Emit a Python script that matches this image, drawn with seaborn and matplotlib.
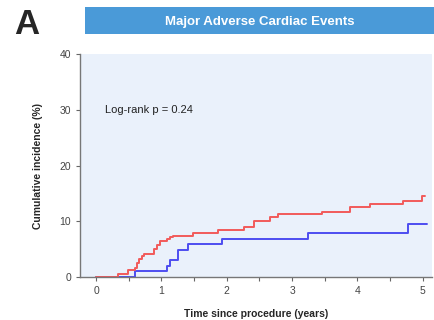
import numpy as np
import pandas as pd
import matplotlib
matplotlib.use("Agg")
import matplotlib.pyplot as plt
import seaborn as sns
from matplotlib.patches import Rectangle

# step curves (time in years, cumulative incidence %)
red_t = [0, 0.34, 0.49, 0.60, 0.63, 0.66, 0.70, 0.73, 0.88, 0.93, 0.98, 1.08, 1.13, 1.18,
         1.49, 1.87, 2.26, 2.41, 2.66, 2.79, 3.45, 3.88, 4.19, 4.70, 4.99, 5.03]
red_y = [0, 0.5, 1.25, 1.7, 2.5, 3.2, 3.8, 4.2, 5.1, 5.7, 6.5, 6.8, 7.2, 7.35,
         7.9, 8.4, 9.0, 10.1, 10.7, 11.3, 11.7, 12.5, 13.1, 13.7, 14.5, 14.5]
blue_t = [0, 0.60, 1.09, 1.13, 1.26, 1.41, 1.92, 3.25, 4.78, 5.06]
blue_y = [0, 1.1, 2.0, 3.05, 4.8, 5.9, 6.9, 7.9, 9.6, 9.6]

df = pd.concat([
    pd.DataFrame({"t": blue_t, "y": blue_y, "grp": "blue"}),
    pd.DataFrame({"t": red_t, "y": red_y, "grp": "red"}),
])

sns.set_style("white")
plt.rcParams['font.family'] = ['Liberation Sans', 'DejaVu Sans']

fig = plt.figure(figsize=(4.35, 3.2), dpi=100)
ax = fig.add_axes([0.184, 0.134, 0.809, 0.697])
ax.set_facecolor('#eaf1fb')

sns.lineplot(data=df, x="t", y="y", hue="grp", palette={"red": "#f25a5a", "blue": "#4d4df0"},
             drawstyle='steps-post', linewidth=1.4, legend=False, ax=ax, estimator=None, sort=False)

ax.set_xlim(-0.245, 5.14)
ax.set_ylim(0, 40)
ax.set_xticks([0, 1, 2, 3, 4, 5])
ax.set_xticks(np.arange(0.5, 5.0, 1.0), minor=True)
ax.set_yticks([0, 10, 20, 30, 40])
ax.tick_params(axis='both', which='both', direction='out', colors='#666666', labelsize=7.5,
               length=3, width=0.8, bottom=True, left=True)
ax.tick_params(axis='both', labelcolor='#444444')
for s in ['top', 'right']:
    ax.spines[s].set_visible(False)
for s in ['left', 'bottom']:
    ax.spines[s].set_color('#777777')
    ax.spines[s].set_linewidth(1.0)

ax.set_xlabel('Time since procedure (years)', fontsize=7.5, fontweight='bold', labelpad=9)
ax.set_ylabel('Cumulative incidence (%)', fontsize=7.5, fontweight='bold', labelpad=12)

ax.text(0.14, 30, 'Log-rank p = 0.24', fontsize=8, va='center', ha='left', color='#222222')

# title banner
fig.patches.append(Rectangle((0.195, 0.894), 0.81, 0.084, transform=fig.transFigure,
                             facecolor='#4a9ad8', edgecolor='none'))
fig.text(0.598, 0.93, 'Major Adverse Cardiac Events', color='white', fontsize=9.5,
         fontweight='bold', ha='center', va='center')
fig.text(0.062, 0.925, 'A', fontsize=25, fontweight='bold', ha='center', va='center')

fig.savefig('out.png', dpi=100)
